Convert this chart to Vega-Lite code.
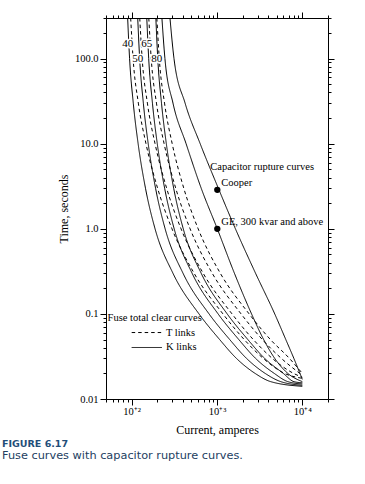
{
  "$schema": "https://vega.github.io/schema/vega-lite/v6.json",
  "width": 222,
  "height": 381,
  "autosize": "none",
  "padding": {"left": 106, "top": 18, "right": 37, "bottom": 85},
  "background": "white",
  "config": {
    "view": {"stroke": "black", "strokeWidth": 1},
    "axis": {"domain": false, "grid": false, "tickColor": "black", "labelColor": "black", "titleColor": "black", "labelFont": "Liberation Serif", "titleFont": "Liberation Serif", "labelFontSize": 10.5, "titleFontSize": 12, "titleFontWeight": "normal", "labelFlush": false, "labelOverlap": false}
  },
  "title": {
    "text": "FIGURE 6.17",
    "subtitle": "Fuse curves with capacitor rupture curves.",
    "orient": "bottom",
    "anchor": "start",
    "frame": "group",
    "dx": -104,
    "offset": 3,
    "font": "DejaVu Sans",
    "fontSize": 9.5,
    "fontWeight": "bold",
    "color": "#1f4e79",
    "subtitleFont": "DejaVu Sans",
    "subtitleFontSize": 11.3,
    "subtitleColor": "#23405f",
    "subtitlePadding": 2
  },
  "datasets": {
    "curves": [
      {"curve": "40K", "style": "solid", "I": 89.7, "t": 300}, {"curve": "40K", "style": "solid", "I": 94.5, "t": 100}, {"curve": "40K", "style": "solid", "I": 104.4, "t": 30}, {"curve": "40K", "style": "solid", "I": 119.0, "t": 10}, {"curve": "40K", "style": "solid", "I": 145.1, "t": 3}, {"curve": "40K", "style": "solid", "I": 187.9, "t": 1}, {"curve": "40K", "style": "solid", "I": 304.8, "t": 0.3}, {"curve": "40K", "style": "solid", "I": 614.8, "t": 0.1}, {"curve": "40K", "style": "solid", "I": 1073, "t": 0.05}, {"curve": "40K", "style": "solid", "I": 1690, "t": 0.03}, {"curve": "40K", "style": "solid", "I": 2794, "t": 0.02}, {"curve": "40K", "style": "solid", "I": 4258, "t": 0.016}, {"curve": "40K", "style": "solid", "I": 10000, "t": 0.0141},
      {"curve": "50K", "style": "solid", "I": 117.7, "t": 300}, {"curve": "50K", "style": "solid", "I": 124.0, "t": 100}, {"curve": "50K", "style": "solid", "I": 137.0, "t": 30}, {"curve": "50K", "style": "solid", "I": 156.2, "t": 10}, {"curve": "50K", "style": "solid", "I": 190.5, "t": 3}, {"curve": "50K", "style": "solid", "I": 246.6, "t": 1}, {"curve": "50K", "style": "solid", "I": 400.0, "t": 0.3}, {"curve": "50K", "style": "solid", "I": 806.6, "t": 0.1}, {"curve": "50K", "style": "solid", "I": 1408, "t": 0.05}, {"curve": "50K", "style": "solid", "I": 2218, "t": 0.03}, {"curve": "50K", "style": "solid", "I": 3667, "t": 0.02}, {"curve": "50K", "style": "solid", "I": 5588, "t": 0.016}, {"curve": "50K", "style": "solid", "I": 10000, "t": 0.0145},
      {"curve": "65K", "style": "solid", "I": 150.3, "t": 300}, {"curve": "65K", "style": "solid", "I": 158.3, "t": 100}, {"curve": "65K", "style": "solid", "I": 175.1, "t": 30}, {"curve": "65K", "style": "solid", "I": 199.5, "t": 10}, {"curve": "65K", "style": "solid", "I": 243.3, "t": 3}, {"curve": "65K", "style": "solid", "I": 314.8, "t": 1}, {"curve": "65K", "style": "solid", "I": 510.9, "t": 0.3}, {"curve": "65K", "style": "solid", "I": 1030, "t": 0.1}, {"curve": "65K", "style": "solid", "I": 1799, "t": 0.05}, {"curve": "65K", "style": "solid", "I": 2832, "t": 0.03}, {"curve": "65K", "style": "solid", "I": 4684, "t": 0.02}, {"curve": "65K", "style": "solid", "I": 6760, "t": 0.016}, {"curve": "65K", "style": "solid", "I": 10000, "t": 0.015},
      {"curve": "80K", "style": "solid", "I": 192.0, "t": 300}, {"curve": "80K", "style": "solid", "I": 202.2, "t": 100}, {"curve": "80K", "style": "solid", "I": 223.6, "t": 30}, {"curve": "80K", "style": "solid", "I": 254.7, "t": 10}, {"curve": "80K", "style": "solid", "I": 310.6, "t": 3}, {"curve": "80K", "style": "solid", "I": 402.3, "t": 1}, {"curve": "80K", "style": "solid", "I": 652.7, "t": 0.3}, {"curve": "80K", "style": "solid", "I": 1316, "t": 0.1}, {"curve": "80K", "style": "solid", "I": 2297, "t": 0.05}, {"curve": "80K", "style": "solid", "I": 3617, "t": 0.03}, {"curve": "80K", "style": "solid", "I": 5982, "t": 0.02}, {"curve": "80K", "style": "solid", "I": 7961, "t": 0.016}, {"curve": "80K", "style": "solid", "I": 10000, "t": 0.0155},
      {"curve": "40T", "style": "dashed", "I": 97.3, "t": 300}, {"curve": "40T", "style": "dashed", "I": 103.9, "t": 100}, {"curve": "40T", "style": "dashed", "I": 119.7, "t": 30}, {"curve": "40T", "style": "dashed", "I": 147.1, "t": 10}, {"curve": "40T", "style": "dashed", "I": 201.2, "t": 3}, {"curve": "40T", "style": "dashed", "I": 296.7, "t": 1}, {"curve": "40T", "style": "dashed", "I": 539.5, "t": 0.3}, {"curve": "40T", "style": "dashed", "I": 1174, "t": 0.1}, {"curve": "40T", "style": "dashed", "I": 2083, "t": 0.05}, {"curve": "40T", "style": "dashed", "I": 3483, "t": 0.03}, {"curve": "40T", "style": "dashed", "I": 6180, "t": 0.02}, {"curve": "40T", "style": "dashed", "I": 10000, "t": 0.0175},
      {"curve": "50T", "style": "dashed", "I": 124.3, "t": 300}, {"curve": "50T", "style": "dashed", "I": 132.7, "t": 100}, {"curve": "50T", "style": "dashed", "I": 152.8, "t": 30}, {"curve": "50T", "style": "dashed", "I": 187.9, "t": 10}, {"curve": "50T", "style": "dashed", "I": 256.8, "t": 3}, {"curve": "50T", "style": "dashed", "I": 378.9, "t": 1}, {"curve": "50T", "style": "dashed", "I": 689.0, "t": 0.3}, {"curve": "50T", "style": "dashed", "I": 1500, "t": 0.1}, {"curve": "50T", "style": "dashed", "I": 2661, "t": 0.05}, {"curve": "50T", "style": "dashed", "I": 4447, "t": 0.03}, {"curve": "50T", "style": "dashed", "I": 7893, "t": 0.02}, {"curve": "50T", "style": "dashed", "I": 10000, "t": 0.018},
      {"curve": "65T", "style": "dashed", "I": 158.7, "t": 300}, {"curve": "65T", "style": "dashed", "I": 169.4, "t": 100}, {"curve": "65T", "style": "dashed", "I": 195.2, "t": 30}, {"curve": "65T", "style": "dashed", "I": 239.9, "t": 10}, {"curve": "65T", "style": "dashed", "I": 328.1, "t": 3}, {"curve": "65T", "style": "dashed", "I": 483.8, "t": 1}, {"curve": "65T", "style": "dashed", "I": 880.0, "t": 0.3}, {"curve": "65T", "style": "dashed", "I": 1915, "t": 0.1}, {"curve": "65T", "style": "dashed", "I": 3398, "t": 0.05}, {"curve": "65T", "style": "dashed", "I": 5680, "t": 0.03}, {"curve": "65T", "style": "dashed", "I": 10000, "t": 0.019},
      {"curve": "80T", "style": "dashed", "I": 197.3, "t": 300}, {"curve": "80T", "style": "dashed", "I": 210.6, "t": 100}, {"curve": "80T", "style": "dashed", "I": 242.6, "t": 30}, {"curve": "80T", "style": "dashed", "I": 298.4, "t": 10}, {"curve": "80T", "style": "dashed", "I": 407.8, "t": 3}, {"curve": "80T", "style": "dashed", "I": 601.4, "t": 1}, {"curve": "80T", "style": "dashed", "I": 1094, "t": 0.3}, {"curve": "80T", "style": "dashed", "I": 2380, "t": 0.1}, {"curve": "80T", "style": "dashed", "I": 4224, "t": 0.05}, {"curve": "80T", "style": "dashed", "I": 7060, "t": 0.03}, {"curve": "80T", "style": "dashed", "I": 10000, "t": 0.02},
      {"curve": "GE", "style": "solid", "I": 226.1, "t": 300}, {"curve": "GE", "style": "solid", "I": 245.3, "t": 100}, {"curve": "GE", "style": "solid", "I": 304.8, "t": 30}, {"curve": "GE", "style": "solid", "I": 434.2, "t": 10}, {"curve": "GE", "style": "solid", "I": 652.7, "t": 3}, {"curve": "GE", "style": "solid", "I": 1008, "t": 1}, {"curve": "GE", "style": "solid", "I": 1601, "t": 0.3}, {"curve": "GE", "style": "solid", "I": 2541, "t": 0.1}, {"curve": "GE", "style": "solid", "I": 3521, "t": 0.05}, {"curve": "GE", "style": "solid", "I": 4749, "t": 0.03}, {"curve": "GE", "style": "solid", "I": 6760, "t": 0.02}, {"curve": "GE", "style": "solid", "I": 10000, "t": 0.016},
      {"curve": "Cooper", "style": "solid", "I": 281.0, "t": 300}, {"curve": "Cooper", "style": "solid", "I": 313.3, "t": 100}, {"curve": "Cooper", "style": "solid", "I": 422.6, "t": 30}, {"curve": "Cooper", "style": "solid", "I": 635.0, "t": 10}, {"curve": "Cooper", "style": "solid", "I": 1036, "t": 3}, {"curve": "Cooper", "style": "solid", "I": 1644, "t": 1}, {"curve": "Cooper", "style": "solid", "I": 2832, "t": 0.3}, {"curve": "Cooper", "style": "solid", "I": 4749, "t": 0.1}, {"curve": "Cooper", "style": "solid", "I": 6401, "t": 0.05}, {"curve": "Cooper", "style": "solid", "I": 7961, "t": 0.03}, {"curve": "Cooper", "style": "solid", "I": 10000, "t": 0.017}
    ],
    "legendLines": [
      {"curve": "legT", "style": "dashed", "I": 100, "t": 0.0604}, {"curve": "legT", "style": "dashed", "I": 226, "t": 0.0604},
      {"curve": "legK", "style": "solid", "I": 100, "t": 0.0403}, {"curve": "legK", "style": "solid", "I": 226, "t": 0.0403}
    ],
    "notes": [
      {"label": "Capacitor rupture curves", "I": 833, "t": 5.33},
      {"label": "Cooper", "I": 1125, "t": 3.46},
      {"label": "GE, 300 kvar and above", "I": 1125, "t": 1.21},
      {"label": "Fuse total clear curves", "I": 52.2, "t": 0.0905},
      {"label": "T links", "I": 252, "t": 0.0604},
      {"label": "K links", "I": 252, "t": 0.0403}
    ],
    "ratings": [
      {"label": "40", "I": 89.7, "t": 147.5},
      {"label": "65", "I": 150.3, "t": 147.5},
      {"label": "50", "I": 117.7, "t": 98.4},
      {"label": "80", "I": 197.3, "t": 98.4}
    ],
    "dots": [
      {"name": "Cooper", "I": 1008, "t": 2.87},
      {"name": "GE", "I": 1008, "t": 1.0}
    ]
  },
  "encoding": {
    "x": {"field": "I", "type": "quantitative", "axis": null, "scale": {"type": "log", "domain": [50, 20000], "nice": false}},
    "y": {"field": "t", "type": "quantitative", "axis": null, "scale": {"type": "log", "domain": [0.01, 300], "nice": false}}
  },
  "layer": [
    {
      "data": {"name": "curves"},
      "mark": {"type": "line", "interpolate": "monotone", "color": "black", "strokeWidth": 1, "clip": true},
      "encoding": {
        "detail": {"field": "curve"},
        "strokeDash": {"field": "style", "type": "nominal", "scale": {"domain": ["solid", "dashed"], "range": [[1, 0], [3.5, 3]]}, "legend": null},
        "x": {"field": "I", "type": "quantitative", "title": "Current, amperes",
          "axis": {"orient": "bottom", "values": [50,60,70,80,90,100,200,300,400,500,600,700,800,900,1000,2000,3000,4000,5000,6000,7000,8000,9000,10000,20000],
            "labelExpr": "datum.value == 100 ? '10⁺²' : datum.value == 1000 ? '10⁺³' : datum.value == 10000 ? '10⁺⁴' : ''",
            "tickSize": {"condition": {"test": "datum.value == 100 || datum.value == 1000 || datum.value == 10000", "value": 6}, "value": 3},
            "labelPadding": 1, "titlePadding": 8}},
        "y": {"field": "t", "type": "quantitative", "title": "Time, seconds",
          "axis": {"orient": "left", "values": [0.01,0.02,0.03,0.04,0.05,0.06,0.07,0.08,0.09,0.1,0.2,0.3,0.4,0.5,0.6,0.7,0.8,0.9,1,2,3,4,5,6,7,8,9,10,20,30,40,50,60,70,80,90,100,200,300],
            "labelExpr": "datum.value == 100 ? '100.0' : datum.value == 10 ? '10.0' : datum.value == 1 ? '1.0' : datum.value == 0.1 ? '0.1' : datum.value == 0.01 ? '0.01' : ''",
            "tickSize": {"condition": {"test": "datum.value == 100 || datum.value == 10 || datum.value == 1 || datum.value == 0.1 || datum.value == 0.01", "value": 6}, "value": 3},
            "labelPadding": 2, "titlePadding": 4}}
      }
    },
    {
      "data": {"name": "legendLines"},
      "mark": {"type": "line", "color": "black", "strokeWidth": 1},
      "encoding": {
        "detail": {"field": "curve"},
        "strokeDash": {"field": "style", "type": "nominal", "scale": {"domain": ["solid", "dashed"], "range": [[1, 0], [3.5, 3]]}, "legend": null},
        "x": {"field": "I", "type": "quantitative",
          "axis": {"orient": "top", "title": null, "labels": false, "values": [50,60,70,80,90,100,200,300,400,500,600,700,800,900,1000,2000,3000,4000,5000,6000,7000,8000,9000,10000,20000],
            "tickSize": {"condition": {"test": "datum.value == 100 || datum.value == 1000 || datum.value == 10000", "value": 6}, "value": 3}}},
        "y": {"field": "t", "type": "quantitative",
          "axis": {"orient": "right", "title": null, "labels": false, "values": [0.01,0.02,0.03,0.04,0.05,0.06,0.07,0.08,0.09,0.1,0.2,0.3,0.4,0.5,0.6,0.7,0.8,0.9,1,2,3,4,5,6,7,8,9,10,20,30,40,50,60,70,80,90,100,200,300],
            "tickSize": {"condition": {"test": "datum.value == 100 || datum.value == 10 || datum.value == 1 || datum.value == 0.1 || datum.value == 0.01", "value": 6}, "value": 3}}}
      }
    },
    {
      "data": {"name": "dots"},
      "mark": {"type": "point", "filled": true, "color": "black", "size": 40, "opacity": 1}
    },
    {
      "data": {"name": "notes"},
      "mark": {"type": "text", "align": "left", "baseline": "middle", "font": "Liberation Serif", "fontSize": 10.5, "color": "black"},
      "encoding": {"text": {"field": "label"}}
    },
    {
      "data": {"name": "ratings"},
      "mark": {"type": "text", "align": "center", "baseline": "middle", "font": "Liberation Serif", "fontSize": 11, "stroke": "white", "strokeWidth": 3, "color": "white"},
      "encoding": {"text": {"field": "label"}}
    },
    {
      "data": {"name": "ratings"},
      "mark": {"type": "text", "align": "center", "baseline": "middle", "font": "Liberation Serif", "fontSize": 11, "color": "black"},
      "encoding": {"text": {"field": "label"}}
    }
  ],
  "resolve": {"axis": {"x": "independent", "y": "independent"}}
}
